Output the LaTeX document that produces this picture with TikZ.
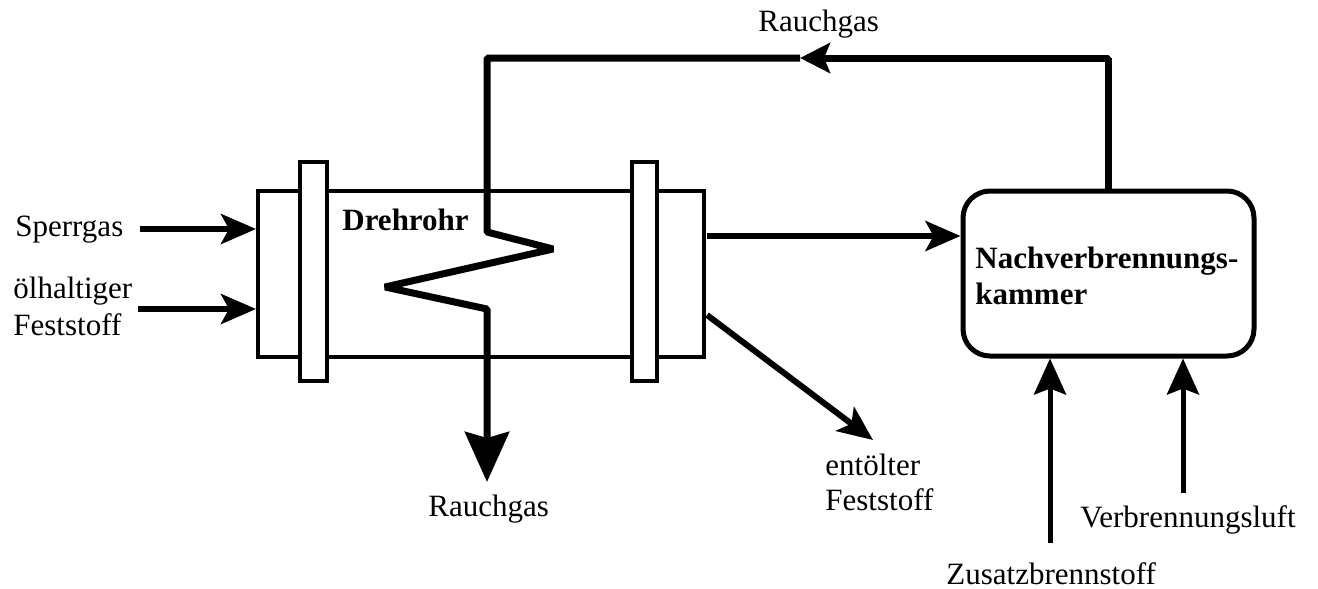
\documentclass[tikz,border=0pt]{standalone}
\usepackage{fontspec}
\setmainfont{Liberation Serif}
\usetikzlibrary{arrows.meta}
\begin{document}
\begin{tikzpicture}[x=0.5pt,y=-0.5pt,
  txt/.style={font=\fontsize{15.5}{18}\selectfont, inner sep=0pt, anchor=base west},
  btxt/.style={txt, font=\fontsize{15.5}{18}\selectfont\bfseries},
  rohrbox/.style={draw, line width=2pt, inner sep=0pt},
  flange/.style={draw, line width=2pt, fill=white, inner sep=0pt, minimum width=13.5pt, minimum height=109.5pt},
  kammer/.style={draw, line width=2.5pt, rounded corners=13.5pt, inner sep=0pt, minimum width=145.5pt, minimum height=82.5pt},
  feed/.style={line width=3pt, -{Stealth[length=17.5pt,width=15pt,inset=4pt]}},
  upfeed/.style={line width=2.5pt, -{Stealth[length=18pt,width=16pt,inset=3pt]}},
  gasline/.style={line width=3.5pt, line join=bevel},
]
\useasboundingbox (0,0) rectangle (1318,589);
% main units
\node[rohrbox, minimum width=223pt, minimum height=83pt] (rohr) at (481,274) {};
\node[kammer] (nvk) at (1108.5,273.5) {};

% flue gas loop and heating coil
\coordinate (g0) at (800,58);
\coordinate (g1) at (487,58);
\coordinate (z1) at (487,232);
\coordinate (z2) at (553,249);
\coordinate (z3) at (385,287);
\coordinate (z4) at (487,309);
\coordinate (gout) at (487,482);
\draw[gasline, -{Stealth[length=15pt,width=15pt,inset=3pt]}] (nvk.north) |- (g0);
\draw[gasline, -{Stealth[length=25pt,width=22pt,inset=3pt]}] (g0) -- (g1) -- (z1) -- (z2) -- (z3) -- (z4) -- (gout);

% flanges
\node[flange] (fl1) at (313.5,271.5) {};
\node[flange, minimum width=12.5pt] (fl2) at (644.5,271.5) {};

% inputs
\coordinate (sg) at (140,229);
\coordinate (of) at (138,309);
\draw[feed] (sg) -- (rohr.west |- sg);
\draw[feed] (of) -- (rohr.west |- of);

% outputs
\coordinate (ab) at (707,236);
\draw[feed] (ab) -- (nvk.west |- ab);
\coordinate (d0) at (707,315);
\coordinate (d1) at (873,440);
\draw[feed] (d0) -- (d1);

% combustion chamber feeds
\coordinate (zs) at (1050,543);
\coordinate (vl) at (1183,493);
\draw[upfeed] (zs) -- (zs |- nvk.south);
\draw[upfeed] (vl) -- (vl |- nvk.south);

% labels
\node[txt] (lsg) at (15,236) {Sperrgas};
\node[txt] (lof1) at (13,298) {ölhaltiger};
\node[txt] (lof2) at (13,335) {Feststoff};
\node[btxt] (ldr) at (342,230) {Drehrohr};
\node[btxt] (lnv1) at (975,268) {Nachverbrennungs-};
\node[btxt] (lnv2) at (975,304) {kammer};
\node[txt] (lrg1) at (758,32) {Rauchgas};
\node[txt] (lrg2) at (428,516) {Rauchgas};
\node[txt] (lef1) at (825,475) {entölter};
\node[txt] (lef2) at (825,510) {Feststoff};
\node[txt] (lzs) at (946,584) {Zusatzbrennstoff};
\node[txt] (lvl) at (1080,527) {Verbrennungsluft};
\end{tikzpicture}
\end{document}
